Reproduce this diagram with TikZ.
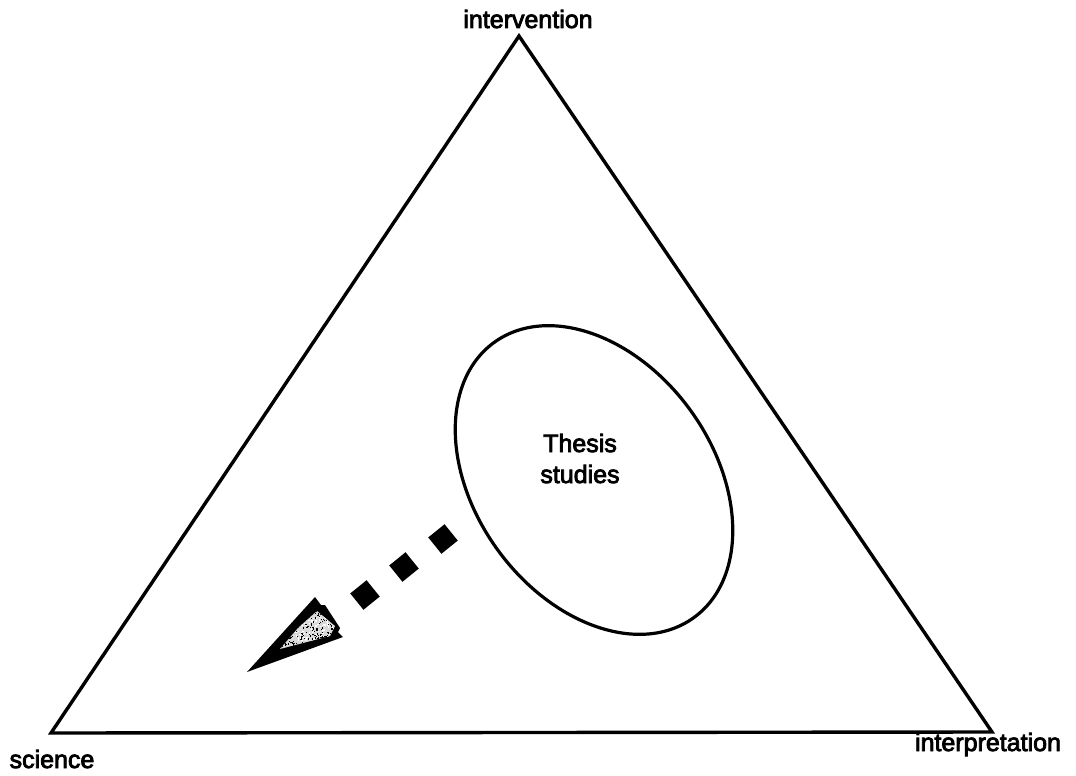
\documentclass[tikz,border=0pt]{standalone}
\usepackage{fontspec}
\setmainfont{Liberation Sans}
% labels: regular face filled and stroked for a medium weight
\newcommand\heavytext[1]{\special{pdf:code q 2 Tr 0.8 w}#1\special{pdf:code Q}}
\begin{document}
\begin{tikzpicture}[x=1pt,y=-1pt,
  edge/.style={line width=3.4pt, line join=miter},
  lbl/.style={font=\fontsize{25}{31}\selectfont, inner sep=0pt},
  dot/.style={fill=black, minimum size=21pt, inner sep=0pt, rotate=39}]
  \useasboundingbox (0,0) rectangle (1076,776);
  % corners of the triangle
  \coordinate (top) at (519,36);
  \coordinate (left) at (51,733);
  \coordinate (right) at (992,732);
  \draw[edge] (top) -- (left) -- (right) -- cycle;
  % corner labels
  \node[lbl, anchor=base] (intervention) at (528,28) {\heavytext{intervention}};
  \node[lbl, anchor=base] (science) at (52,768) {\heavytext{science}};
  \node[lbl, anchor=base] (interpretation) at (988,751) {\heavytext{interpretation}};
  % thesis studies region
  \coordinate (c) at (594,480);
  \draw[line width=3.2pt, rotate around={36:(c)}] (c) ellipse [x radius=119, y radius=170];
  \node[lbl, anchor=base] (thesis) at (580,452) {\heavytext{Thesis}};
  \node[lbl, anchor=base] (studies) at (580,483) {\heavytext{studies}};
  % dashed arrow leaving the region
  \node[dot] (d1) at (443,539) {};
  \node[dot] (d2) at (404,567) {};
  \node[dot] (d3) at (365,595) {};
  \coordinate (tip) at (247,672);
  \fill[black] (tip) -- (315,597) -- (321,605) -- (325,605) -- (340,628)
    -- (338,632) -- (343,637) -- cycle;
  % speckled light patch inside the arrow head
  \begin{scope}
    \clip (280,649) -- (298,628) -- (317,611) -- (335,626) -- (330,636) -- cycle;
    \fill[gray!30] (275,600) rectangle (340,655);
    \pgfmathsetseed{4217}
    \foreach \i in {1,...,280} {
      \pgfmathsetmacro{\px}{280+56*rnd}
      \pgfmathsetmacro{\py}{608+44*rnd}
      \fill[black] (\px,\py) rectangle ++(1.3,1.3);
    }
    \foreach \i in {1,...,120} {
      \pgfmathsetmacro{\px}{295+38*rnd}
      \pgfmathsetmacro{\py}{612+30*rnd}
      \fill[white] (\px,\py) rectangle ++(1.2,1.2);
    }
  \end{scope}
\end{tikzpicture}
\end{document}
